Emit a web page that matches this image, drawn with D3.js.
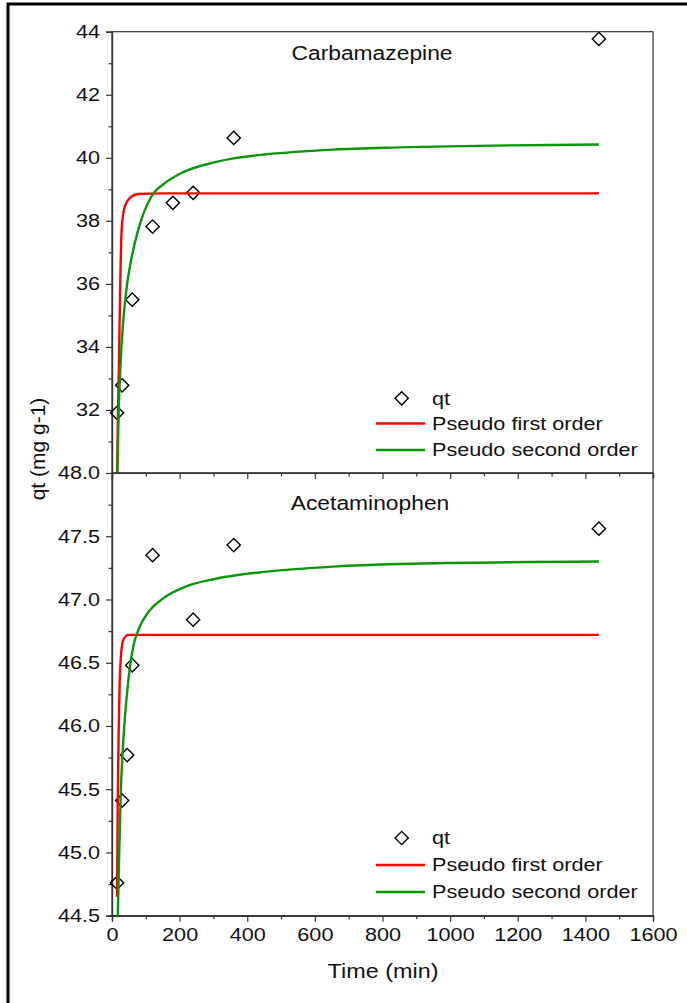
<!DOCTYPE html>
<html>
<head>
<meta charset="utf-8">
<script src="https://cdnjs.cloudflare.com/ajax/libs/d3/7.8.5/d3.min.js"></script>
<style>
  body { margin: 0; background: #fff; }
  text { font-family: "Liberation Sans", Arial, sans-serif; fill: #111; }
</style>
</head>
<body>
<script>
// measured data, carbamazepine
var timeCbz = [15, 30, 60, 120, 180, 240, 360, 1440];
var qtCbz = [31.91, 32.78, 35.50, 37.82, 38.57, 38.89, 40.63, 43.77];
// measured data, acetaminophen
var timeAcm = [15, 30, 45, 60, 120, 240, 360, 1440];
var qtAcm = [44.76, 45.41, 45.77, 46.48, 47.35, 46.84, 47.43, 47.56];

// fitted curves
var pfoCbzT = [15, 17.7, 20.7, 23.7, 28.6, 33, 38.4, 53, 78, 150, 1440];
var pfoCbzQ = [29.8, 31.93, 33.52, 35.62, 37.73, 38.2, 38.47, 38.73, 38.85, 38.87, 38.87];
var psoCbzT = [15, 19.7, 25.6, 40.4, 55.2, 78, 117, 157, 206, 305, 359, 457, 654, 852, 1440];
var psoCbzQ = [29.6, 31.93, 33.52, 35.62, 36.68, 37.73, 38.78, 39.2, 39.52, 39.86, 39.98, 40.11, 40.26, 40.33, 40.42];

var pfoAcmT = [15, 16.8, 19.7, 22.6, 26.6, 33.5, 48, 1440];
var pfoAcmQ = [44.65, 45.35, 45.95, 46.33, 46.56, 46.68, 46.72, 46.72];
var psoAcmT = [15, 20.7, 25.6, 35.5, 48.3, 63, 78, 107.5, 152, 216, 300, 457, 654, 852, 1440];
var psoAcmQ = [44.25, 44.92, 45.44, 45.97, 46.36, 46.63, 46.76, 46.9, 47.01, 47.1, 47.16, 47.22, 47.26, 47.28, 47.3];

var xMajor = [0, 200, 400, 600, 800, 1000, 1200, 1400, 1600];
var xMinor = [100, 300, 500, 700, 900, 1100, 1300, 1500];
var yTopMajor = [32, 34, 36, 38, 40, 42, 44];
var yTopMinor = [31, 33, 35, 37, 39, 41, 43];
var yBotMajor = [44.5, 45.0, 45.5, 46.0, 46.5, 47.0, 47.5, 48.0];
var yBotMinor = [44.75, 45.25, 45.75, 46.25, 46.75, 47.25, 47.75];

var legendNames = ["qt", "Pseudo first order", "Pseudo second order"];

var W = 687, H = 1003;
var left = 112, right = 653, top1 = 31.7, mid = 473, bottom = 915.7;
var sx = 1.17; // glyphs in the figure are a bit wider than tall
var red = "#ff0000", green = "#0a960a";

var svg = d3.select("body").append("svg")
    .attr("width", W)
    .attr("height", H);

// outer frame
svg.append("rect")
    .attr("x", 8).attr("y", 4)
    .attr("width", 720).attr("height", 1020)
    .attr("fill", "none")
    .attr("stroke", "#000")
    .attr("stroke-width", 3);

var xScale = d3.scaleLinear().domain([0, 1600]).range([left, right]);
var yTop = d3.scaleLinear().domain([30, 44]).range([mid, top1]);
var yBot = d3.scaleLinear().domain([44.5, 48]).range([bottom, mid]);

var txt = function(g, s, x, y, size, anchor) {
  return g.append("text")
    .attr("transform", "translate(" + x + "," + y + ") scale(" + sx + ",1)")
    .attr("text-anchor", anchor || "start")
    .attr("dy", "0.35em")
    .attr("font-size", size)
    .text(s);
};

var panel = function(id, yScale, yMajor, yMinor, yFmt, times, qts, pfoT, pfoQ, psoT, psoQ, title, titleX, titleY, legY) {
  var y0 = yScale.range()[1], y1 = yScale.range()[0];
  var g = svg.append("g");

  g.append("clipPath").attr("id", id)
    .append("rect")
      .attr("x", left).attr("y", y0)
      .attr("width", right - left).attr("height", y1 - y0);

  // box
  g.append("rect")
      .attr("x", left).attr("y", y0)
      .attr("width", right - left).attr("height", y1 - y0)
      .attr("fill", "none")
      .attr("stroke", "#333")
      .attr("stroke-width", 1.2);

  // y axis, major + minor
  var ya = g.append("g")
      .attr("transform", "translate(" + left + ",0)")
      .call(d3.axisLeft(yScale).tickValues(yMajor).tickSize(6).tickPadding(6).tickFormat(d3.format(yFmt)));
  ya.selectAll("text")
      .attr("font-size", 18.5)
      .attr("x", null)
      .attr("transform", "translate(-12,0) scale(" + sx + ",1)");
  g.append("g")
      .attr("transform", "translate(" + left + ",0)")
      .call(d3.axisLeft(yScale).tickValues(yMinor).tickSize(3.5).tickFormat(""));

  // x axis along bottom of the panel
  var xa = g.append("g")
      .attr("transform", "translate(0," + y1 + ")")
      .call(d3.axisBottom(xScale).tickValues(xMajor).tickSize(6).tickPadding(6.5).tickFormat(id == "clipBot" ? d3.format("d") : ""));
  xa.selectAll("text")
      .attr("font-size", 18.5)
      .attr("transform", "scale(" + sx + ",1)");
  g.append("g")
      .attr("transform", "translate(0," + y1 + ")")
      .call(d3.axisBottom(xScale).tickValues(xMinor).tickSize(3.5).tickFormat(""));

  g.selectAll(".domain").attr("stroke", "#333").attr("stroke-width", 1.2);
  g.selectAll(".tick line").attr("stroke", "#333").attr("stroke-width", 1.2);

  // measured points
  var diamond = d3.symbol().type(d3.symbolSquare).size(88);
  g.selectAll(".pt")
    .data(times)
    .enter()
      .append("path")
      .attr("d", diamond)
      .attr("transform", function(d, i) {
        return "translate(" + xScale(d) + "," + yScale(qts[i]) + ") rotate(45)";
      })
      .attr("fill", "none")
      .attr("stroke", "#000")
      .attr("stroke-width", 1.4);

  // fitted curves
  var line = d3.line()
      .x(function(d) { return xScale(d[0]); })
      .y(function(d) { return yScale(d[1]); })
      .curve(d3.curveMonotoneX);

  var clip = g.append("g").attr("clip-path", "url(#" + id + ")");
  clip.append("path")
      .datum(pfoT.map(function(t, i) { return [t, pfoQ[i]]; }))
      .attr("d", line)
      .attr("fill", "none")
      .attr("stroke", red)
      .attr("stroke-width", 2.4);
  clip.append("path")
      .datum(psoT.map(function(t, i) { return [t, psoQ[i]]; }))
      .attr("d", line)
      .attr("fill", "none")
      .attr("stroke", green)
      .attr("stroke-width", 2.4);

  txt(g, title, titleX, titleY, 19.5, "middle");

  // legend
  g.append("path")
      .attr("d", diamond)
      .attr("transform", "translate(401.7," + legY[0] + ") rotate(45)")
      .attr("fill", "none")
      .attr("stroke", "#000")
      .attr("stroke-width", 1.4);
  g.append("line")
      .attr("x1", 376).attr("x2", 425)
      .attr("y1", legY[1]).attr("y2", legY[1])
      .attr("stroke", red).attr("stroke-width", 2.4);
  g.append("line")
      .attr("x1", 376).attr("x2", 425)
      .attr("y1", legY[2]).attr("y2", legY[2])
      .attr("stroke", green).attr("stroke-width", 2.4);
  legendNames.forEach(function(n, i) {
    txt(g, n, 432, legY[i], 18.5, "start");
  });
};

panel("clipTop", yTop, yTopMajor, yTopMinor, "d", timeCbz, qtCbz,
      pfoCbzT, pfoCbzQ, psoCbzT, psoCbzQ, "Carbamazepine", 372, 53, [398.3, 423.5, 450]);
panel("clipBot", yBot, yBotMajor, yBotMinor, ".1f", timeAcm, qtAcm,
      pfoAcmT, pfoAcmQ, psoAcmT, psoAcmQ, "Acetaminophen", 370, 503, [838, 865, 892]);

// axis titles
txt(svg, "Time (min)", 383, 971, 20, "middle");
svg.append("text")
    .attr("transform", "translate(38,449) rotate(-90)")
    .attr("text-anchor", "middle")
    .attr("dy", "0.35em")
    .attr("font-size", 21)
    .text("qt (mg g-1)");
</script>
</body>
</html>
